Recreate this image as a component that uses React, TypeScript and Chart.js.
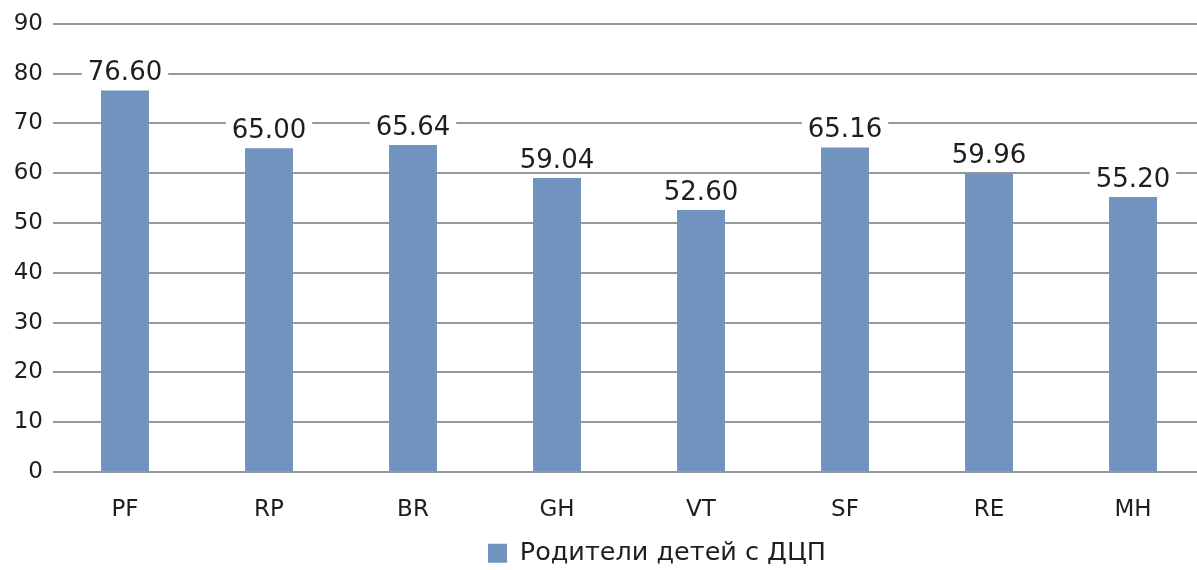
import React, { useEffect, useRef } from "react";
import { Chart, registerables } from "chart.js";

Chart.register(...registerables);

const categories = ["PF", "RP", "BR", "GH", "VT", "SF", "RE", "MH"];
const seriesName = "Родители детей с ДЦП";
const seriesValues = [76.6, 65.0, 65.64, 59.04, 52.6, 65.16, 59.96, 55.2];
const yTicks = [0, 10, 20, 30, 40, 50, 60, 70, 80, 90];

const FONT = "'DejaVu Sans', Verdana, sans-serif";
const TEXT = "#1e1e1e";
const BAR = "#7093bf";
const GRID = "#989898";

const valueLabels = {
  id: "valueLabels",
  afterDatasetsDraw(chart: any) {
    const ctx = chart.ctx;
    const meta = chart.getDatasetMeta(0);
    const data = chart.data.datasets[0].data as number[];
    ctx.save();
    ctx.font = `26px ${FONT}`;
    ctx.textAlign = "center";
    ctx.textBaseline = "middle";
    meta.data.forEach((el: any, i: number) => {
      const txt = data[i].toFixed(2);
      const w = ctx.measureText(txt).width;
      const cx = el.x;
      const cy = el.y - 18;
      ctx.fillStyle = "#ffffff";
      ctx.fillRect(cx - w / 2 - 6, cy - 12, w + 12, 24);
      ctx.fillStyle = TEXT;
      ctx.fillText(txt, cx, cy + 1);
    });
    ctx.restore();
  },
};

const legendShift = {
  id: "legendShift",
  afterLayout(chart: any) {
    const lg = chart.legend;
    if (!lg) return;
    const lw = lg.lineWidths && lg.lineWidths[0] ? lg.lineWidths[0] : 0;
    const pad = 2;
    const start = (lg.left + pad + lg.right - lw) / 2;
    const shift = 488 - start;
    lg.left += shift;
    lg.right += shift;
  },
};

export default function App() {
  const ref = useRef<HTMLCanvasElement>(null);
  useEffect(() => {
    document.body.style.margin = "0";
    document.body.style.overflow = "hidden";
    const chart = new Chart(ref.current!, {
      type: "bar",
      data: {
        labels: categories,
        datasets: [
          {
            label: seriesName,
            data: seriesValues,
            backgroundColor: BAR,
            borderWidth: 0,
            categoryPercentage: 1,
            barPercentage: 0.333,
          },
        ],
      },
      plugins: [valueLabels, legendShift],
      options: {
        responsive: false,
        animation: false,
        layout: { padding: { top: 22, right: 0, bottom: 0, left: 0 } },
        plugins: {
          tooltip: { enabled: false },
          legend: {
            position: "bottom",
            labels: {
              boxWidth: 19,
              boxHeight: 19,
              padding: 2,
              color: TEXT,
              font: { family: FONT, size: 25.5 },
            },
          },
        },
        scales: {
          x: {
            grid: { display: false, drawTicks: false },
            border: { display: false },
            ticks: {
              color: TEXT,
              padding: 24,
              font: { family: FONT, size: 23 },
            },
            afterFit(scale: any) {
              scale.height = 66.5;
            },
          },
          y: {
            min: 0,
            max: 90,
            afterBuildTicks(scale: any) {
              scale.ticks = yTicks.map((v) => ({ value: v }));
            },
            grid: { color: GRID, lineWidth: 2, drawTicks: false },
            border: { display: false },
            ticks: {
              color: TEXT,
              padding: 10,
              font: { family: FONT, size: 23 },
            },
            afterFit(scale: any) {
              scale.width = 53;
            },
          },
        },
      },
    });
    return () => chart.destroy();
  }, []);
  return (
    <div
      style={{
        position: "fixed",
        left: 0,
        top: 0,
        width: 1197,
        height: 570,
        overflow: "hidden",
        background: "#fff",
      }}
    >
      <canvas ref={ref} width={1205} height={576} style={{ display: "block" }} />
    </div>
  );
}
